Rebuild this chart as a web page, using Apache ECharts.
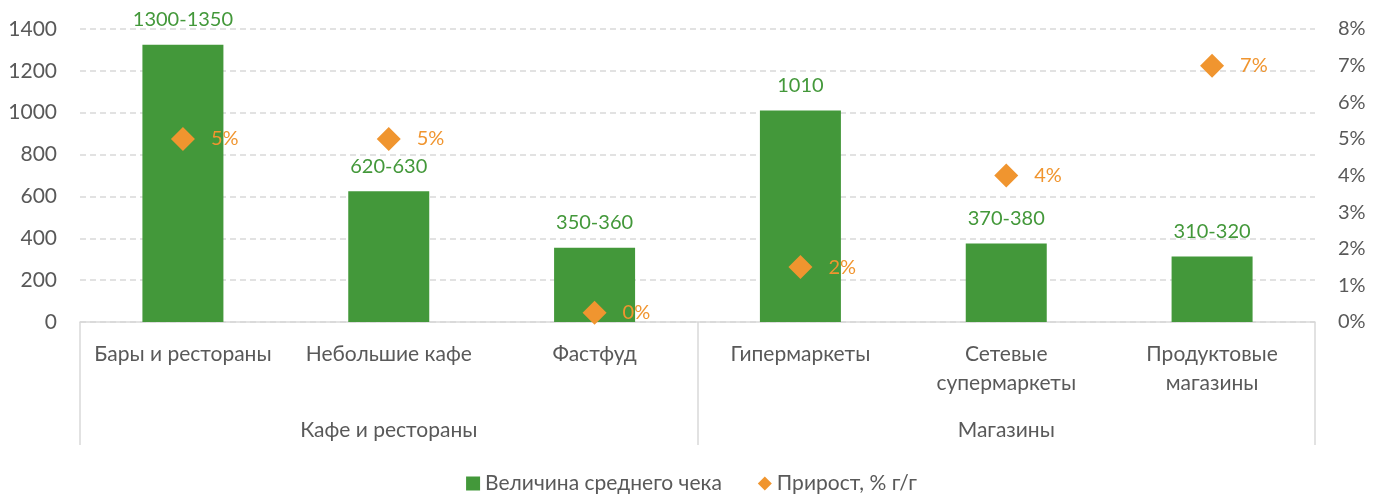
<!DOCTYPE html>
<html><head><meta charset="utf-8">
<script src="https://cdn.jsdelivr.net/npm/echarts@6/dist/echarts.min.js"></script>
<style>html,body{margin:0;padding:0;background:#fff}#c{width:1383px;height:495px}</style>
</head><body><div id="c"></div>
<script>
const categories = ['Бары и рестораны','Небольшие кафе','Фастфуд','Гипермаркеты','Сетевые\nсупермаркеты','Продуктовые\nмагазины'];
const groups = ['Кафе и рестораны','Магазины'];
const avgCheck = [1325, 625, 355, 1010, 375, 313];
const avgCheckLabels = ['1300-1350','620-630','350-360','1010','370-380','310-320'];
const growth = [0.05, 0.05, 0.0025, 0.015, 0.04, 0.07];
const growthLabels = ['5%','5%','0%','2%','4%','7%'];

const GREEN = '#43983A', ORANGE = '#F0952F', TXT = '#595959', LINE = '#D9D9D9';
const FONT = 'Lato';
const chart = echarts.init(document.getElementById('c'));
chart.setOption({
  animation: false,
  textStyle: {fontFamily: FONT},
  grid: {left: 80, right: 68, top: 29, bottom: 173},
  legend: {
    top: 468, left: 'center', itemWidth: 14, itemHeight: 14, itemGap: 36,
    textStyle: {fontFamily: FONT, fontSize: 21, color: TXT},
    data: [{name: 'Величина среднего чека', icon: 'rect'}, {name: 'Прирост, % г/г', icon: 'diamond', itemStyle: {opacity: 1}}]
  },
  xAxis: [{
    type: 'category', data: categories, position: 'bottom',
    axisLine: {lineStyle: {color: LINE, width: 1.5}},
    axisTick: {show: false},
    axisLabel: {color: TXT, fontSize: 21, lineHeight: 29, margin: 18, interval: 0, fontFamily: FONT}
  }, {
    type: 'category', data: groups, position: 'bottom',
    axisLine: {show: false},
    axisTick: {show: true, length: 123, lineStyle: {color: LINE, width: 1.5}},
    axisLabel: {color: TXT, fontSize: 21, lineHeight: 26, margin: 95, interval: 0, fontFamily: FONT}
  }],
  yAxis: [{
    type: 'value', min: 0, max: 1400, interval: 200,
    axisLine: {show: false}, axisTick: {show: false},
    axisLabel: {color: TXT, fontSize: 21, margin: 23, fontFamily: FONT, formatter: v => String(v)},
    splitLine: {lineStyle: {color: LINE, type: [6, 4], width: 1.5}}
  }, {
    type: 'value', min: 0, max: 0.08, interval: 0.01,
    axisLine: {show: false}, axisTick: {show: false},
    axisLabel: {color: TXT, fontSize: 20, margin: 23, fontFamily: FONT, formatter: v => Math.round(v * 100) + '%'},
    splitLine: {show: false}
  }],
  series: [{
    name: 'Величина среднего чека', type: 'bar', data: avgCheck, barWidth: 81,
    itemStyle: {color: GREEN},
    label: {show: true, position: 'top', distance: 15, color: GREEN, fontSize: 20, fontFamily: FONT,
      formatter: p => avgCheckLabels[p.dataIndex]}
  }, {
    name: 'Прирост, % г/г', type: 'scatter', yAxisIndex: 1, data: growth,
    symbol: 'diamond', symbolSize: 24,
    itemStyle: {color: ORANGE, opacity: 1},
    label: {show: true, position: 'right', distance: 16, color: ORANGE, fontSize: 20, fontFamily: FONT,
      formatter: p => growthLabels[p.dataIndex]}
  }]
});
</script></body></html>
